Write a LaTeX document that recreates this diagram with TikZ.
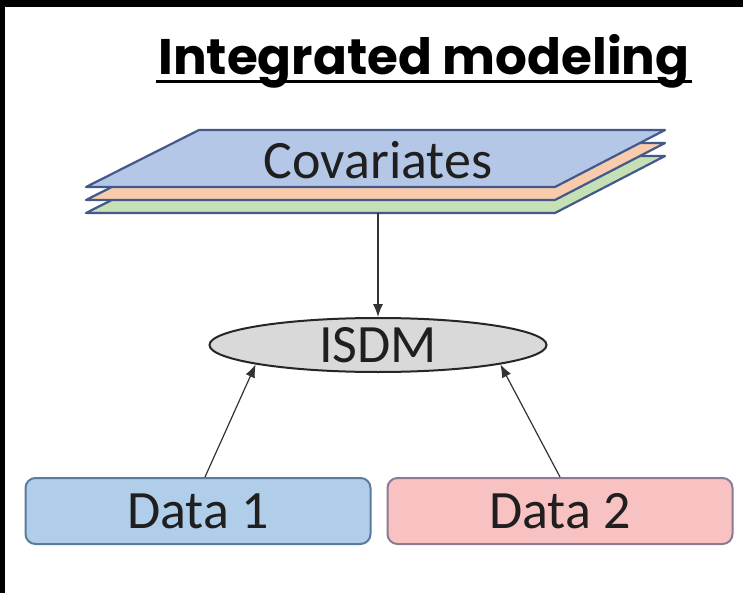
\documentclass[tikz,border=0pt]{standalone}
\usepackage{fontspec}
\setmainfont{Carlito}
\newfontfamily\titlefont{Poppins}
\definecolor{capaAzul}{HTML}{B4C7E7}
\definecolor{capaNaranja}{HTML}{F8CBAD}
\definecolor{capaVerde}{HTML}{C5E0B4}
\definecolor{capaBorde}{HTML}{42598A}
\definecolor{datoAzul}{HTML}{B0CDE9}
\definecolor{datoAzulBorde}{HTML}{5A7A9E}
\definecolor{datoRosa}{HTML}{F8C2C2}
\definecolor{datoRosaBorde}{HTML}{8A7A96}
\definecolor{modeloGris}{HTML}{D9D9D9}
\definecolor{textoOscuro}{HTML}{1F1F1F}
\usetikzlibrary{
	arrows.meta,
	positioning,
	shapes.geometric
}
\tikzset{
	titulo/.style={
		inner sep=0pt,
		font=\titlefont\bfseries\fontsize{50}{56}\selectfont
	},
	capa/.style={
		draw=capaBorde,
		line width=2.2pt,
		line join=round
	},
	modelo/.style={
		ellipse,
		draw=black!85,
		line width=2pt,
		fill=modeloGris,
		minimum width=337pt,
		minimum height=54pt,
		inner sep=0pt,
		text=textoOscuro,
		font=\fontsize{54}{60}\selectfont
	},
	datos/.style={
		rounded corners=10pt,
		line width=2pt,
		minimum width=345pt,
		minimum height=66pt,
		inner sep=0pt,
		text=textoOscuro,
		font=\fontsize{54}{60}\selectfont
	},
	flecha/.style={
		-{Latex[length=13pt,width=10pt]},
		line width=1.2pt,
		black!80
	}
}

\begin{document}
\begin{tikzpicture}[x=1pt,y=-1pt]
	\useasboundingbox (0,0) rectangle (743,593);
	\fill[white] (0,0) rectangle (743,593);
	\fill[black] (0,0) rectangle (743,7);
	\fill[black] (0,0) rectangle (5,593);
	% title
	\node[titulo, anchor=base] (tit) at (424,75) {Integrated modeling};
	\draw[line width=3pt] ([xshift=-2pt,yshift=-7pt]tit.base west) -- ([xshift=2pt,yshift=-7pt]tit.base east);
	% stacked covariate layers
	\foreach \dy/\col in {26/capaVerde,13/capaNaranja,0/capaAzul}
		\draw[capa, fill=\col] (86,{187+\dy}) -- (555,{187+\dy}) -- (665,{130+\dy}) -- (199,{130+\dy}) -- cycle;
	\node[text=textoOscuro, font=\fontsize{54}{60}\selectfont] (cov) at (378,160) {Covariates};
	\coordinate (covbase) at (378,213);
	% model and data
	\node[modelo] (isdm) at (378,345) {ISDM};
	\node[datos, draw=datoAzulBorde, fill=datoAzul] (d1) at (198,511) {Data 1};
	\node[datos, draw=datoRosaBorde, fill=datoRosa] (d2) at (560,511) {Data 2};
	\draw[flecha] (covbase) -- (isdm.north);
	\draw[flecha] ([xshift=7pt]d1.north) -- (isdm.189);
	\draw[flecha] (d2.north) -- (isdm.351);
\end{tikzpicture}
\end{document}
